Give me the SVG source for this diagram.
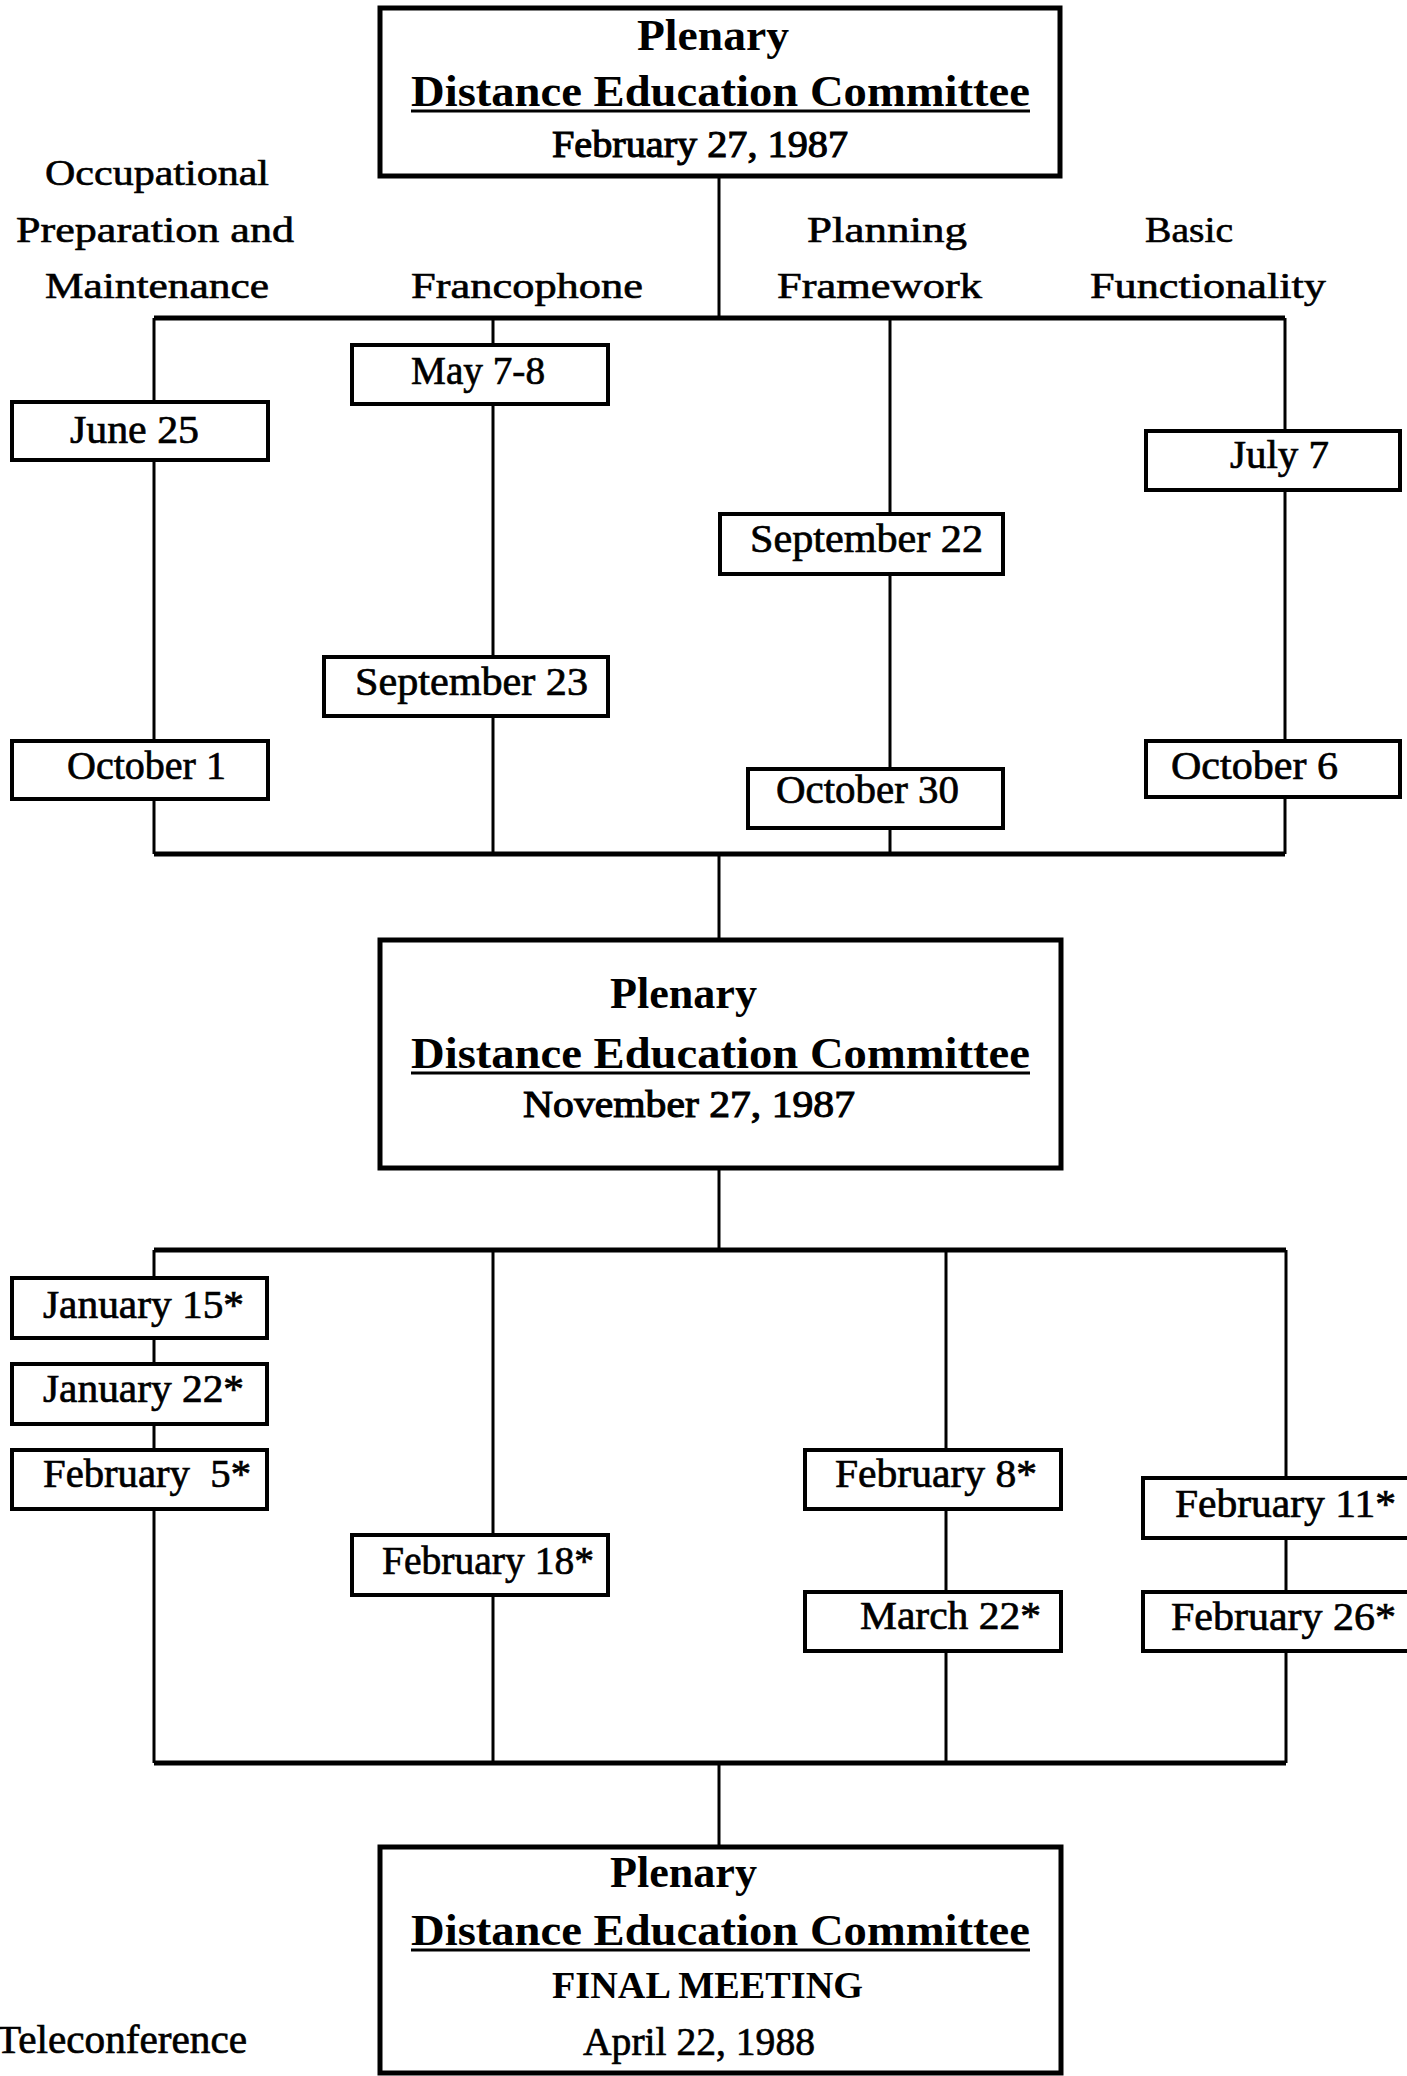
<svg xmlns="http://www.w3.org/2000/svg" width="1407" height="2076" viewBox="0 0 1407 2076">
<style>
  .bg { fill: #ffffff; }
  .box { fill: #ffffff; stroke: #000; stroke-width: 4; }
  .big { fill: #ffffff; stroke: #000; stroke-width: 5; }
  .bus { stroke: #000; stroke-width: 5; fill: none; }
  .vl { stroke: #000; stroke-width: 3; fill: none; }
  .ul { stroke: #000; stroke-width: 3; }
  text { font-family: "Liberation Serif", "Times New Roman", serif; fill: #000; }
  .t { font-size: 44px; font-weight: bold; }
  .td { font-size: 38px; stroke: #000; stroke-width: 1.1; }
  .d { font-size: 41px; stroke: #000; stroke-width: 0.7; }
  .lbl { font-size: 36px; stroke: #000; stroke-width: 0.6; }
</style>
<rect class="bg" x="0" y="0" width="1407" height="2076"/>

<g id="connectors">
  <line class="vl" x1="719" y1="176" x2="719" y2="318"/>
  <line class="bus" x1="154" y1="318" x2="1285" y2="318"/>
  <line class="vl" x1="154" y1="318" x2="154" y2="854"/>
  <line class="vl" x1="493" y1="318" x2="493" y2="854"/>
  <line class="vl" x1="890" y1="318" x2="890" y2="854"/>
  <line class="vl" x1="1285" y1="318" x2="1285" y2="854"/>
  <line class="bus" x1="154" y1="854" x2="1285" y2="854"/>
  <line class="vl" x1="719" y1="854" x2="719" y2="940"/>
  <line class="vl" x1="719" y1="1168" x2="719" y2="1250"/>
  <line class="bus" x1="154" y1="1250" x2="1286" y2="1250"/>
  <line class="vl" x1="154" y1="1250" x2="154" y2="1763"/>
  <line class="vl" x1="493" y1="1250" x2="493" y2="1763"/>
  <line class="vl" x1="946" y1="1250" x2="946" y2="1763"/>
  <line class="vl" x1="1286" y1="1250" x2="1286" y2="1763"/>
  <line class="bus" x1="154" y1="1763" x2="1286" y2="1763"/>
  <line class="vl" x1="719" y1="1763" x2="719" y2="1847"/>
</g>

<g id="labels">
  <text class="lbl" x="45" y="185" textLength="224" lengthAdjust="spacingAndGlyphs">Occupational</text>
  <text class="lbl" x="16" y="242" textLength="278" lengthAdjust="spacingAndGlyphs">Preparation and</text>
  <text class="lbl" x="45" y="298" textLength="224" lengthAdjust="spacingAndGlyphs">Maintenance</text>
  <text class="lbl" x="411" y="298" textLength="232" lengthAdjust="spacingAndGlyphs">Francophone</text>
  <text class="lbl" x="807" y="242" textLength="160" lengthAdjust="spacingAndGlyphs">Planning</text>
  <text class="lbl" x="777" y="298" textLength="205" lengthAdjust="spacingAndGlyphs">Framework</text>
  <text class="lbl" x="1145" y="242" textLength="88" lengthAdjust="spacingAndGlyphs">Basic</text>
  <text class="lbl" x="1090" y="298" textLength="236" lengthAdjust="spacingAndGlyphs">Functionality</text>
  <text class="d" x="-4" y="2053" textLength="251" lengthAdjust="spacingAndGlyphs">Teleconference</text>
</g>

<g id="plenary-1">
  <rect class="big" x="380" y="8" width="680" height="168"/>
  <text class="t" x="637" y="50" textLength="152" lengthAdjust="spacingAndGlyphs">Plenary</text>
  <text class="t" x="411" y="106" textLength="619" lengthAdjust="spacingAndGlyphs">Distance Education Committee</text>
  <line class="ul" x1="411" y1="111" x2="1030" y2="111"/>
  <text class="td" x="552" y="157" textLength="296" lengthAdjust="spacingAndGlyphs">February 27, 1987</text>
</g>

<g id="may-7-8"><rect class="box" x="352" y="345" width="256" height="59"/><text class="d" x="411" y="384" textLength="134" lengthAdjust="spacingAndGlyphs">May 7-8</text></g>
<g id="june-25"><rect class="box" x="12" y="402" width="256" height="58"/><text class="d" x="70" y="443" textLength="129" lengthAdjust="spacingAndGlyphs">June 25</text></g>
<g id="july-7"><rect class="box" x="1146" y="431" width="254" height="59"/><text class="d" x="1230" y="468" textLength="99" lengthAdjust="spacingAndGlyphs">July 7</text></g>
<g id="september-22"><rect class="box" x="720" y="514" width="283" height="60"/><text class="d" x="750" y="552" textLength="233" lengthAdjust="spacingAndGlyphs">September 22</text></g>
<g id="september-23"><rect class="box" x="324" y="657" width="284" height="59"/><text class="d" x="355" y="695" textLength="233" lengthAdjust="spacingAndGlyphs">September 23</text></g>
<g id="october-1"><rect class="box" x="12" y="741" width="256" height="58"/><text class="d" x="67" y="779" textLength="159" lengthAdjust="spacingAndGlyphs">October 1</text></g>
<g id="october-30"><rect class="box" x="748" y="769" width="255" height="59"/><text class="d" x="776" y="803" textLength="183" lengthAdjust="spacingAndGlyphs">October 30</text></g>
<g id="october-6"><rect class="box" x="1146" y="741" width="254" height="56"/><text class="d" x="1171" y="779" textLength="167" lengthAdjust="spacingAndGlyphs">October 6</text></g>

<g id="plenary-2">
  <rect class="big" x="380" y="940" width="681" height="228"/>
  <text class="t" x="610" y="1008" textLength="147" lengthAdjust="spacingAndGlyphs">Plenary</text>
  <text class="t" x="411" y="1068" textLength="619" lengthAdjust="spacingAndGlyphs">Distance Education Committee</text>
  <line class="ul" x1="411" y1="1073" x2="1030" y2="1073"/>
  <text class="td" x="523" y="1117" textLength="332" lengthAdjust="spacingAndGlyphs">November 27, 1987</text>
</g>

<g id="january-15"><rect class="box" x="12" y="1278" width="255" height="60"/><text class="d" x="43" y="1318" textLength="201" lengthAdjust="spacingAndGlyphs">January 15*</text></g>
<g id="january-22"><rect class="box" x="12" y="1364" width="255" height="60"/><text class="d" x="43" y="1402" textLength="201" lengthAdjust="spacingAndGlyphs">January 22*</text></g>
<g id="february-5"><rect class="box" x="12" y="1450" width="255" height="59"/><text class="d" x="43" y="1487" textLength="208" lengthAdjust="spacingAndGlyphs" xml:space="preserve">February  5*</text></g>
<g id="february-8"><rect class="box" x="805" y="1450" width="256" height="59"/><text class="d" x="835" y="1487" textLength="202" lengthAdjust="spacingAndGlyphs">February 8*</text></g>
<g id="february-11"><rect class="box" x="1143" y="1478" width="280" height="60"/><text class="d" x="1175" y="1517" textLength="221" lengthAdjust="spacingAndGlyphs">February 11*</text></g>
<g id="february-18"><rect class="box" x="352" y="1535" width="256" height="60"/><text class="d" x="382" y="1574" textLength="212" lengthAdjust="spacingAndGlyphs">February 18*</text></g>
<g id="march-22"><rect class="box" x="805" y="1592" width="256" height="59"/><text class="d" x="860" y="1629" textLength="181" lengthAdjust="spacingAndGlyphs">March 22*</text></g>
<g id="february-26"><rect class="box" x="1143" y="1592" width="280" height="59"/><text class="d" x="1171" y="1630" textLength="225" lengthAdjust="spacingAndGlyphs">February 26*</text></g>

<g id="plenary-final">
  <rect class="big" x="380" y="1847" width="681" height="226"/>
  <text class="t" x="610" y="1887" textLength="147" lengthAdjust="spacingAndGlyphs">Plenary</text>
  <text class="t" x="411" y="1945" textLength="619" lengthAdjust="spacingAndGlyphs">Distance Education Committee</text>
  <line class="ul" x1="411" y1="1950" x2="1030" y2="1950"/>
  <text class="t" x="552" y="1998" textLength="311" lengthAdjust="spacingAndGlyphs" style="font-size:37px">FINAL MEETING</text>
  <text class="d" x="583" y="2055" textLength="232" lengthAdjust="spacingAndGlyphs">April 22, 1988</text>
</g>
</svg>
